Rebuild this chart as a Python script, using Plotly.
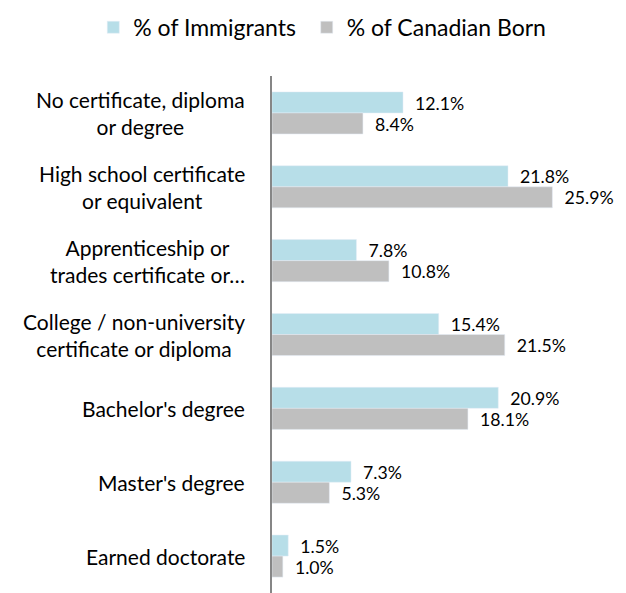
import plotly.graph_objects as go

categories = [
    "No certificate, diploma<br>or degree",
    "High school certificate<br>or equivalent",
    "Apprenticeship or<br>trades certificate or…",
    "College / non-university<br>certificate or diploma",
    "Bachelor's degree",
    "Master's degree",
    "Earned doctorate",
]
immigrants = [12.1, 21.8, 7.8, 15.4, 20.9, 7.3, 1.5]
canadian_born = [8.4, 25.9, 10.8, 21.5, 18.1, 5.3, 1.0]

font = "Lato"
pad = "\u00a0\u00a0"

fig = go.Figure()
fig.add_trace(go.Bar(
    y=categories, x=immigrants, orientation="h", name="% of Immigrants",
    marker=dict(color="#B7DEE8"), legend="legend",
    text=[f"{pad}{v:.1f}%" for v in immigrants], textposition="outside",
    textfont=dict(size=21, color="#000000", family=font), cliponaxis=False,
))
fig.add_trace(go.Bar(
    y=categories, x=canadian_born, orientation="h", name="% of Canadian Born",
    marker=dict(color="#BFBFBF"), legend="legend2",
    text=[f"{pad}{v:.1f}%" for v in canadian_born], textposition="outside",
    textfont=dict(size=21, color="#000000", family=font), cliponaxis=False,
))

# category labels, centred block, right edge left of the axis
for c in categories:
    fig.add_annotation(
        x=0, y=c, xref="x", yref="y", text=c, showarrow=False,
        xanchor="right", align="center", xshift=-25,
        font=dict(size=21, color="#000000", family=font),
    )

leg = dict(orientation="h", xanchor="left", xref="container",
           y=0.954, yanchor="middle", yref="container",
           font=dict(size=23, family=font, color="#000000"),
           bgcolor="rgba(0,0,0,0)")

fig.update_layout(
    width=626, height=593,
    margin=dict(l=272, r=0, t=76, b=0, autoexpand=False),
    barmode="group", bargap=0.43, bargroupgap=0,
    plot_bgcolor="white", paper_bgcolor="white",
    font=dict(family=font, color="#000000"),
    legend=dict(leg, x=0.149),
    legend2=dict(leg, x=0.49),
    showlegend=True,
)
fig.update_xaxes(range=[0, 32.7], visible=False)
fig.update_yaxes(autorange="reversed", showticklabels=False, showgrid=False,
                 showline=True, linecolor="#868686", linewidth=1.5, ticks="",
                 zeroline=False)

fig.write_html("out.html", config={"displayModeBar": False},
               post_script="document.body.style.margin='0';")
